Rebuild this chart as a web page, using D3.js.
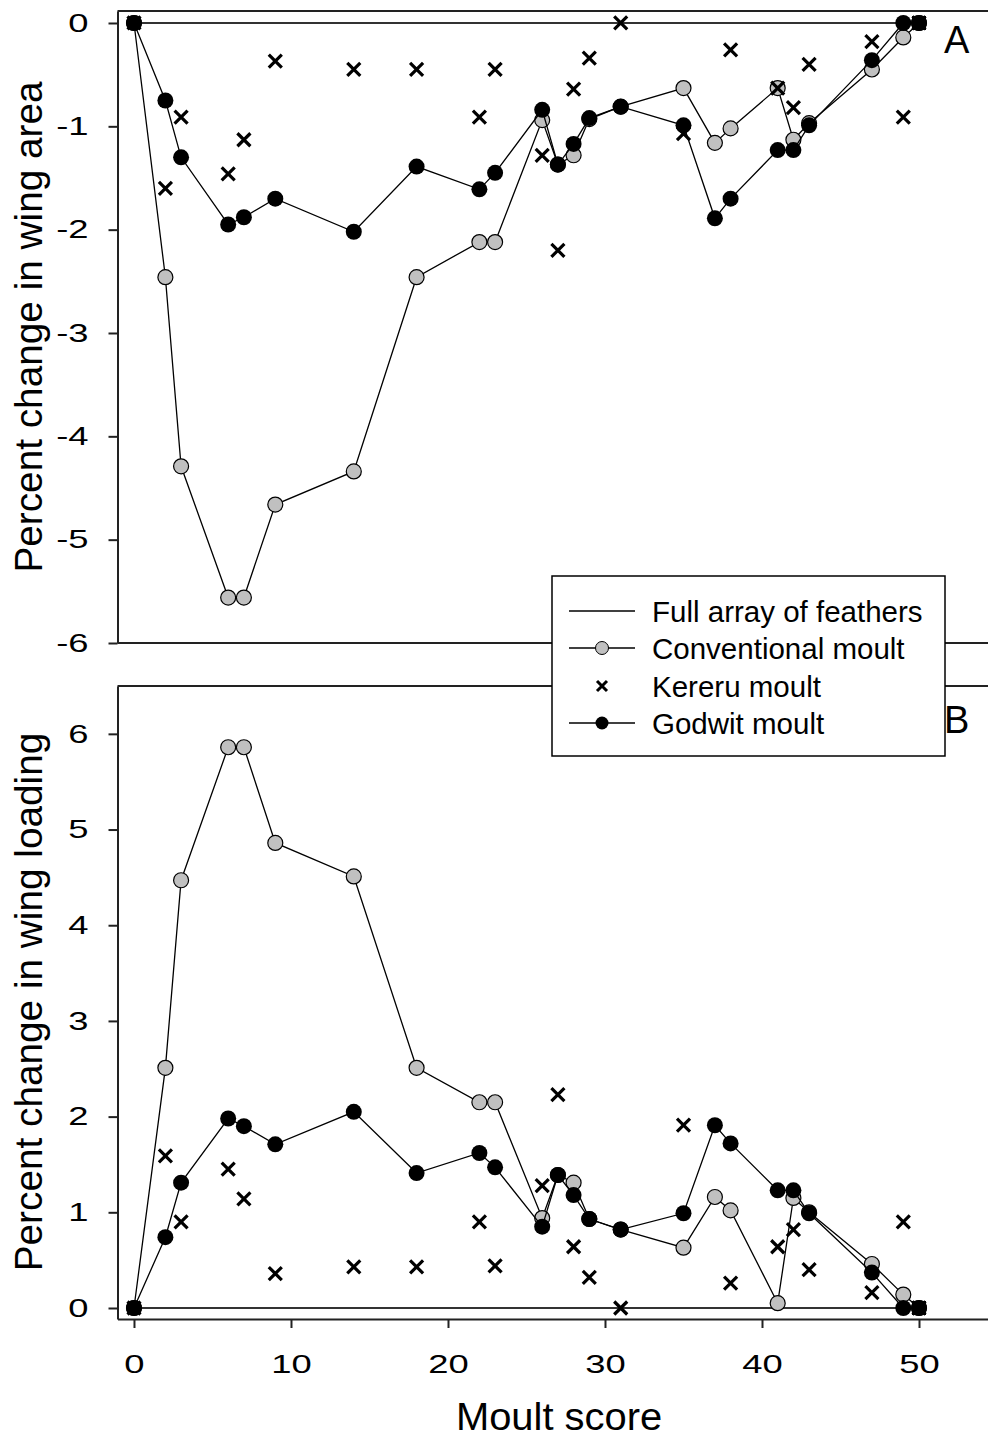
<!DOCTYPE html>
<html>
<head>
<meta charset="utf-8">
<script src="https://cdn.jsdelivr.net/npm/d3@7"></script>
<style>
  body { margin: 0; background: #fff; }
  svg { display: block; font-family: "Liberation Sans", Arial, sans-serif; }
</style>
</head>
<body>
<svg id="chart"></svg>
<script>
// moult scores shared by every series
const moultScore = [0, 2, 3, 6, 7, 9, 14, 18, 22, 23, 26, 27, 28, 29, 31, 35, 37, 38, 41, 42, 43, 47, 49, 50];

// panel A: percent change in wing area
const conventionalArea = [0, -2.46, -4.29, -5.56, -5.56, -4.66, -4.34, -2.46, -2.12, -2.12, -0.94, -1.37, -1.28, -0.93, -0.81, -0.63, -1.16, -1.02, -0.63, -1.13, -0.97, -0.45, -0.14, 0];
const kereruArea = [0, -1.60, -0.91, -1.46, -1.13, -0.37, -0.45, -0.45, -0.91, -0.45, -1.28, -2.20, -0.64, -0.34, 0, -1.07, null, -0.26, -0.63, -0.82, -0.40, -0.18, -0.91, 0];
const godwitArea = [0, -0.75, -1.30, -1.95, -1.88, -1.70, -2.02, -1.39, -1.61, -1.45, -0.84, -1.37, -1.17, -0.92, -0.81, -0.99, -1.89, -1.70, -1.23, -1.23, -0.99, -0.36, 0, 0];

// panel B: percent change in wing loading
const conventionalLoading = [0, 2.51, 4.47, 5.86, 5.86, 4.86, 4.51, 2.51, 2.15, 2.15, 0.94, 1.39, 1.31, 0.93, 0.82, 0.63, 1.16, 1.02, 0.05, 1.15, 1.00, 0.46, 0.14, 0];
const kereruLoading = [0, 1.59, 0.90, 1.45, 1.14, 0.36, 0.43, 0.43, 0.90, 0.44, 1.28, 2.23, 0.64, 0.32, 0, 1.91, null, 0.26, 0.64, 0.82, 0.40, 0.16, 0.90, 0];
const godwitLoading = [0, 0.74, 1.31, 1.98, 1.90, 1.71, 2.05, 1.41, 1.62, 1.47, 0.85, 1.39, 1.18, 0.93, 0.82, 0.99, 1.91, 1.72, 1.23, 1.23, 0.99, 0.37, 0, 0];

// full array of feathers: flat reference line
const fullArrayScore = [0, 50];
const fullArrayValue = [0, 0];

const areaTicks = [0, -1, -2, -3, -4, -5, -6];
const loadingTicks = [0, 1, 2, 3, 4, 5, 6];
const xTicks = [0, 10, 20, 30, 40, 50];

const legendLabels = ["Full array of feathers", "Conventional moult", "Kereru moult", "Godwit moult"];

const width = 988, height = 1438;
const svg = d3.select("#chart").attr("width", width).attr("height", height);

const x = d3.scaleLinear().domain([-1.05, 55]).range([117.5, 997.5]);

const panels = [
  { letter: "A", yDomain: [-6, 0.116], yRange: [643, 11], ticks: areaTicks,
    conventional: conventionalArea, kereru: kereruArea, godwit: godwitArea,
    title: "Percent change in wing area", titleY: 327, letterY: 53, xAxis: false },
  { letter: "B", yDomain: [-0.115, 6.5], yRange: [1319, 686], ticks: loadingTicks,
    conventional: conventionalLoading, kereru: kereruLoading, godwit: godwitLoading,
    title: "Percent change in wing loading", titleY: 1002, letterY: 733, xAxis: true }
];

panels.forEach(draw_panel);
draw_legend();

svg.append("text")
  .attr("transform", "translate(559,1430) scale(1.05,1)")
  .attr("text-anchor", "middle")
  .attr("font-size", 38)
  .text("Moult score");

function rows(values) {
  return moultScore.map((s, i) => ({ s: s, v: values[i] })).filter(d => d.v != null);
}

function draw_panel(p) {
  const y = d3.scaleLinear().domain(p.yDomain).range(p.yRange);
  const g = svg.append("g");
  const left = x.range()[0];

  // top border
  g.append("line")
    .attr("x1", left).attr("x2", width)
    .attr("y1", p.yRange[1]).attr("y2", p.yRange[1])
    .attr("stroke", "#222").attr("stroke-width", 2);

  const yAxis = d3.axisLeft(y).tickValues(p.ticks).tickSize(9).tickSizeOuter(0).tickFormat(d => String(d));
  const ya = g.append("g").attr("transform", "translate(" + left + ",0)").call(yAxis)
    .attr("font-size", 26).attr("font-family", null);
  ya.selectAll("path, line").attr("stroke", "#222").attr("stroke-width", 2);
  ya.selectAll("text").attr("x", null).attr("fill", "#000")
    .attr("transform", "translate(-29,0) scale(1.4,1)");

  if (p.xAxis) {
    const xAxis = d3.axisBottom(x).tickValues(xTicks).tickSize(9).tickSizeOuter(0);
    const xa = g.append("g").attr("transform", "translate(0," + p.yRange[0] + ")").call(xAxis)
      .attr("font-size", 26).attr("font-family", null);
    xa.selectAll("path, line").attr("stroke", "#222").attr("stroke-width", 2);
    xa.selectAll("text").attr("y", null).attr("dy", null).attr("fill", "#000")
      .attr("transform", "translate(0,54) scale(1.4,1)");
  } else {
    g.append("line")
      .attr("x1", left).attr("x2", width)
      .attr("y1", p.yRange[0]).attr("y2", p.yRange[0])
      .attr("stroke", "#222").attr("stroke-width", 2);
  }

  // axis title
  g.append("text")
    .attr("transform", "translate(42," + p.titleY + ") rotate(-90) scale(1.02,1)")
    .attr("text-anchor", "middle")
    .attr("font-size", 38)
    .text(p.title);

  g.append("text")
    .attr("x", 944).attr("y", p.letterY)
    .attr("font-size", 38)
    .text(p.letter);

  const line = d3.line().x(d => x(d.s)).y(d => y(d.v));

  // full array of feathers
  const full = fullArrayScore.map((s, i) => ({ s: s, v: fullArrayValue[i] }));
  g.append("path").datum(full).attr("d", line)
    .attr("fill", "none").attr("stroke", "#333").attr("stroke-width", 2.2);
  const last = full[full.length - 1];
  g.append("rect")
    .attr("x", x(last.s) - 7).attr("y", y(last.v) - 7)
    .attr("width", 14).attr("height", 14)
    .attr("fill", "#000");

  // conventional moult
  const conv = rows(p.conventional);
  g.append("path").datum(conv).attr("d", line)
    .attr("fill", "none").attr("stroke", "#000").attr("stroke-width", 1.3);
  g.append("g").selectAll("circle").data(conv).join("circle")
    .attr("cx", d => x(d.s)).attr("cy", d => y(d.v)).attr("r", 7.5)
    .attr("fill", "#c0c0c0").attr("stroke", "#000").attr("stroke-width", 1.2);

  // kereru moult
  g.append("g").selectAll("path").data(rows(p.kereru)).join("path")
    .attr("transform", d => "translate(" + x(d.s) + "," + y(d.v) + ")")
    .attr("d", "M-6.5,-6.5L6.5,6.5M-6.5,6.5L6.5,-6.5")
    .attr("stroke", "#000").attr("stroke-width", 3.2);

  // godwit moult
  const god = rows(p.godwit);
  g.append("path").datum(god).attr("d", line)
    .attr("fill", "none").attr("stroke", "#000").attr("stroke-width", 1.3);
  g.append("g").selectAll("circle").data(god).join("circle")
    .attr("cx", d => x(d.s)).attr("cy", d => y(d.v)).attr("r", 8)
    .attr("fill", "#000");
}

function draw_legend() {
  const lg = svg.append("g").attr("transform", "translate(552,576)");
  lg.append("rect").attr("width", 393).attr("height", 180)
    .attr("fill", "#fff").attr("stroke", "#000").attr("stroke-width", 1.5);

  const rowY = [35, 72, 110, 147];
  const item = lg.selectAll("g").data(legendLabels).join("g")
    .attr("transform", (d, i) => "translate(0," + rowY[i] + ")");

  item.append("text")
    .attr("x", 100).attr("y", 11)
    .attr("font-size", 29.5)
    .text(d => d);

  item.filter((d, i) => i !== 2).append("line")
    .attr("x1", 17).attr("x2", 83)
    .attr("stroke", "#000").attr("stroke-width", 1.5);

  item.filter((d, i) => i === 1).append("circle")
    .attr("cx", 50).attr("r", 6.5)
    .attr("fill", "#c0c0c0").attr("stroke", "#000").attr("stroke-width", 1);
  item.filter((d, i) => i === 3).append("circle")
    .attr("cx", 50).attr("r", 6.5)
    .attr("fill", "#000");
  item.filter((d, i) => i === 2).append("path")
    .attr("d", "M45,-5L55,5M45,5L55,-5")
    .attr("stroke", "#000").attr("stroke-width", 3);
}
</script>
</body>
</html>
